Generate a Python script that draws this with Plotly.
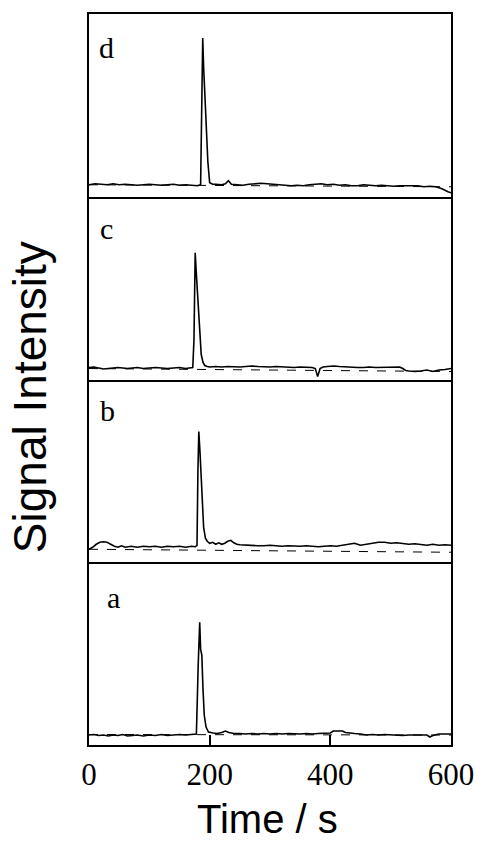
import plotly.graph_objects as go
from plotly.subplots import make_subplots

# ---------------- data (signal in arbitrary units, baseline-level ~12) ----------------
t_a = [0, 8, 16, 24, 32, 40, 48, 56, 64, 72, 80, 90, 100, 110, 120, 130, 140, 150, 160, 170, 178,
       181, 183.5, 185, 187, 189, 191, 194, 198, 206, 212, 220, 226, 232, 240, 250, 260, 270, 280,
       290, 300, 310, 320, 330, 340, 350, 360, 370, 380, 390, 400, 405, 410, 415, 420, 425, 430,
       440, 450, 460, 470, 480, 490, 500, 510, 520, 530, 540, 550, 560, 565, 570, 580, 590, 600]
v_a = [10, 10.5, 9.5, 10, 9, 10, 9.5, 10.5, 9, 9.5, 10, 9, 10, 9.5, 10.5, 9.5, 10, 10.5, 10, 10.5, 11,
       80, 123, 96, 90, 55, 30, 18, 13, 12, 11.5, 12.5, 14, 12.5, 11.5, 11.5, 11, 11.5, 11,
       11.5, 11, 11.5, 11, 11.5, 11, 11, 11.5, 11, 11.5, 11.5, 12, 14, 14, 13.5, 14, 12.5, 12,
       11.5, 11, 10, 10.5, 10, 10.5, 10, 10, 9.5, 10, 10, 9.5, 10, 8, 9.5, 11, 11, 11]
dash_a = [10.5, 10]

t_b = [0, 6, 12, 18, 24, 30, 36, 42, 48, 54, 60, 70, 80, 90, 100, 110, 120, 130, 140, 150, 160, 170,
       176, 179, 180.5, 182, 184, 186, 188, 190, 193, 196, 200, 205, 210, 215, 220, 225, 230, 235,
       240, 245, 250, 260, 270, 280, 290, 300, 310, 320, 330, 340, 350, 360, 370, 380, 390, 400,
       410, 420, 430, 440, 450, 460, 470, 480, 490, 500, 510, 520, 530, 540, 550, 560, 570, 580,
       590, 600]
v_b = [13, 15, 18, 20, 20.5, 20, 18, 16, 15, 16.5, 15, 16, 15, 16, 15.5, 16, 15, 16, 15.5, 16, 15, 16,
       15.5, 17, 90, 131, 110, 86, 60, 35, 24, 21, 19, 20, 18, 19.5, 18, 19, 21, 22,
       19.5, 18, 17.5, 17, 17, 16.5, 16.5, 17, 16.5, 16, 16.5, 16, 16, 16.5, 16, 15.5, 16, 16.5,
       16, 17, 17.5, 19, 17, 18, 19, 20, 20, 19, 19.5, 18.5, 18, 18.5, 17.5, 17, 18, 17,
       17.5, 17]
dash_b = [13, 10]

t_c = [0, 8, 16, 24, 32, 40, 48, 56, 64, 72, 80, 90, 100, 110, 120, 130, 140, 150, 160, 166, 172,
       174, 176, 178, 180, 183, 186, 189, 192, 196, 200, 210, 220, 230, 240, 250, 260, 270, 280,
       290, 300, 310, 320, 330, 340, 350, 360, 370, 375, 379, 383, 388, 395, 405, 415, 425, 435,
       445, 455, 465, 475, 485, 495, 505, 515, 520, 525, 530, 540, 550, 560, 570, 580, 590, 600]
v_c = [12, 12.5, 11.5, 10.5, 11, 11.5, 12, 11.5, 11, 11.5, 12, 11, 11.5, 12, 11.5, 11, 11.5, 12, 11, 11.5, 12,
       40, 127, 105, 86, 50, 25, 17, 14, 13, 12.5, 13, 12.5, 13, 12.5, 12.5, 13, 13.5, 13,
       12.5, 12.5, 13, 12.5, 12, 12, 12.5, 12.5, 12, 11, 3, 11, 12.5, 13, 13.5, 13, 12.5, 12.5,
       12, 12, 12.5, 12, 12, 12, 12.5, 12.5, 11, 9, 8.5, 8, 8.5, 9.5, 8, 9.5, 10, 11]
dash_c = [11, 8]

t_d = [0, 10, 20, 30, 40, 50, 60, 70, 80, 90, 100, 110, 120, 130, 140, 150, 160, 170, 180, 185,
       186.5, 188.5, 190, 192, 194, 197, 200, 205, 210, 220, 226, 231, 236, 245, 255, 265, 275, 285,
       295, 305, 315, 325, 335, 345, 355, 365, 375, 385, 395, 405, 415, 425, 435, 445, 455, 465,
       475, 485, 495, 505, 515, 525, 535, 545, 555, 565, 575, 585, 595, 600]
v_d = [12, 13, 12.5, 12, 13, 12, 12.5, 12, 11.5, 12, 12.5, 12, 11.5, 12, 12.5, 11.5, 12, 11.5, 11, 12,
       60, 159, 130, 100, 70, 35, 14, 12.5, 12.5, 12, 13, 16, 12.5, 12, 11.5, 12.5, 13, 13.5,
       13, 12.5, 12, 11.5, 11, 11.5, 11, 12, 12.5, 13, 12, 12.5, 11.5, 12, 11, 11, 12, 11.5,
       11, 11.5, 11, 10.5, 11, 11, 11.5, 11, 10, 10.5, 10, 8, 5, 4]
dash_d = [12, 10]

dash_t = [0, 600]
panel_labels = ["d", "c", "b", "a"]
x_ticks = [0, 200, 400, 600]
x_title = "Time / s"
y_title = "Signal Intensity"

series = [(t_d, v_d, dash_d), (t_c, v_c, dash_c), (t_b, v_b, dash_b), (t_a, v_a, dash_a)]

# ---------------- layout geometry ----------------
W, H = 486, 843
L, R, T, B = 89, 28, 14, 98
pw, ph = W - L - R, H - T - B


def px(x):
    return (x - L) / pw


def py(y):
    return (H - B - y) / ph


fig = make_subplots(rows=4, cols=1, shared_xaxes=True, vertical_spacing=0)

for i, (t, v, dv) in enumerate(series):
    row = i + 1
    fig.add_trace(go.Scatter(x=dash_t, y=dv, mode="lines",
                             line=dict(color="black", width=1, dash="dash"),
                             showlegend=False, hoverinfo="skip"), row=row, col=1)
    fig.add_trace(go.Scatter(x=t, y=v, mode="lines",
                             line=dict(color="black", width=1.6),
                             showlegend=False), row=row, col=1)
    fig.update_yaxes(range=[0, 183], showline=True, mirror=True, linecolor="black", linewidth=2,
                     showgrid=False, zeroline=False, ticks="", showticklabels=False,
                     row=row, col=1)
    fig.update_xaxes(range=[0, 600], showline=True, mirror=(row == 1), linecolor="black",
                     linewidth=2, showgrid=False, zeroline=False, row=row, col=1)

for row in range(1, 4):
    fig.update_xaxes(ticks="", showticklabels=False, row=row, col=1)

fig.update_xaxes(ticks="inside", tickvals=x_ticks, ticktext=[str(v) for v in x_ticks],
                 ticklen=10, tickwidth=1.5, tickcolor="black", showticklabels=True,
                 tickfont=dict(family="Liberation Serif", size=31, color="black"),
                 ticklabelstandoff=1, row=4, col=1)

annotations = []
label_pos = [(107, 47), (107, 228), (108, 410), (114, 597)]
for lab, (xx, yy) in zip(panel_labels, label_pos):
    annotations.append(dict(text=lab, xref="paper", yref="paper", x=px(xx), y=py(yy),
                            xanchor="center", yanchor="middle", showarrow=False,
                            font=dict(family="Liberation Serif", size=30, color="black")))
annotations.append(dict(text=x_title, xref="paper", yref="paper", x=px(271), y=py(819),
                        xanchor="center", yanchor="middle", showarrow=False,
                        font=dict(family="Liberation Sans", size=40, color="black")))
annotations.append(dict(text=y_title, xref="paper", yref="paper", x=px(29), y=py(397),
                        xanchor="center", yanchor="middle", showarrow=False, textangle=-90,
                        font=dict(family="Liberation Sans", size=46, color="black")))

fig.update_layout(width=W, height=H, margin=dict(l=L, r=R, t=T, b=B),
                  paper_bgcolor="white", plot_bgcolor="white", annotations=annotations)

fig.write_html("out.html")
